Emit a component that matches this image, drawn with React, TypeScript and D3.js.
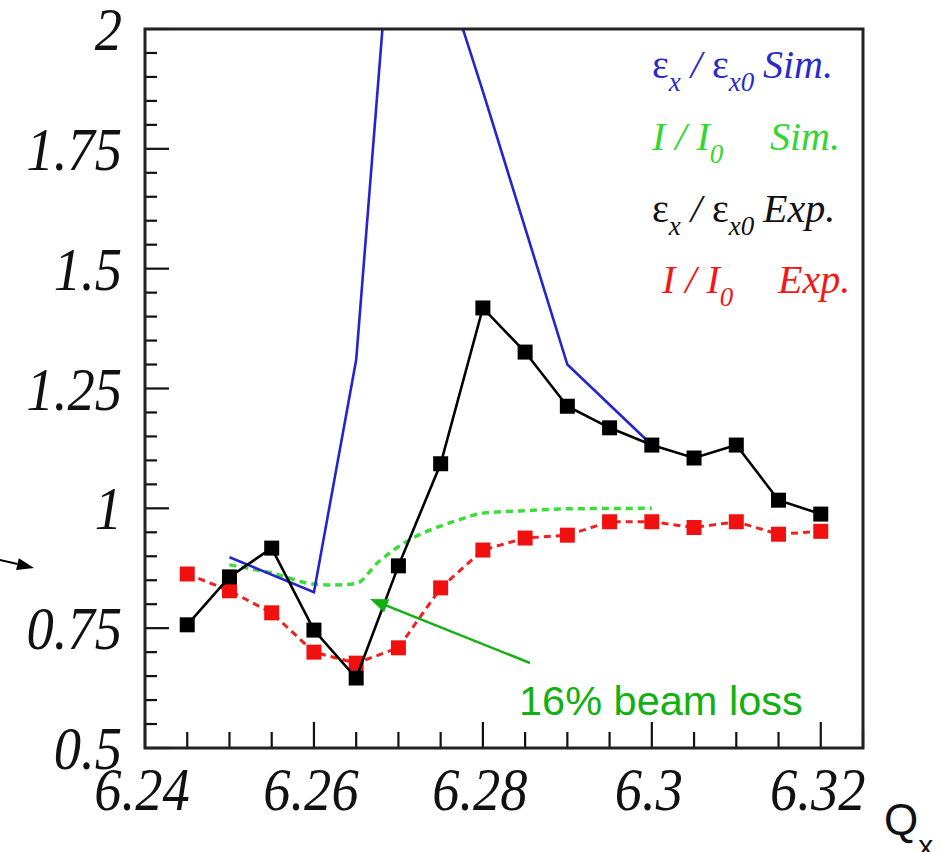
import React, { useEffect, useRef } from 'react'
import * as d3 from 'd3'

// measured points (experiment), Q_x tune scan
const qExp = [6.245, 6.25, 6.255, 6.26, 6.265, 6.27, 6.275, 6.28, 6.285, 6.29, 6.295, 6.3, 6.305, 6.31, 6.315, 6.32]
const emitExp = [0.757, 0.857, 0.917, 0.746, 0.646, 0.88, 1.093, 1.418, 1.326, 1.213, 1.168, 1.132, 1.105, 1.132, 1.017, 0.988]
const intExp = [0.863, 0.828, 0.782, 0.7, 0.677, 0.709, 0.834, 0.913, 0.938, 0.944, 0.972, 0.972, 0.96, 0.972, 0.946, 0.952]
// simulation
const qSimEmit = [6.25, 6.26, 6.265, 6.27, 6.28, 6.29, 6.3]
const emitSim = [0.898, 0.825, 1.31, 2.42, 1.87, 1.3, 1.132]
const qSimInt = [6.25, 6.255, 6.26, 6.2625, 6.265, 6.2675, 6.27, 6.2725, 6.275, 6.2775, 6.28, 6.285, 6.29, 6.3]
const intSim = [0.882, 0.865, 0.842, 0.84, 0.843, 0.886, 0.92, 0.945, 0.963, 0.978, 0.99, 0.995, 0.999, 1.0]

const yTicks = [0.5, 0.75, 1, 1.25, 1.5, 1.75, 2]
const yTickLabels = ['0.5', '0.75', '1', '1.25', '1.5', '1.75', '2']
const xTicks = [6.24, 6.26, 6.28, 6.3, 6.32]
const xTickLabels = ['6.24', '6.26', '6.28', '6.3', '6.32']

const NB = '\u00a0'
type Part = { t: string; sub?: boolean; greek?: boolean; x?: number }
const legendRows: { color: string; x: number; y: number; parts: Part[] }[] = [
  { color: '#2a2ac8', x: 652, y: 78, parts: [{ t: 'ε', greek: true }, { t: 'x', sub: true }, { t: NB + '/' + NB }, { t: 'ε', greek: true }, { t: 'x0', sub: true }, { t: 'Sim.', x: 763 }] },
  { color: '#33d633', x: 652, y: 150, parts: [{ t: 'I' + NB + '/' + NB + 'I' }, { t: '0', sub: true }, { t: 'Sim.', x: 770 }] },
  { color: '#111', x: 652, y: 222, parts: [{ t: 'ε', greek: true }, { t: 'x', sub: true }, { t: NB + '/' + NB }, { t: 'ε', greek: true }, { t: 'x0', sub: true }, { t: 'Exp.', x: 763 }] },
  { color: '#f01818', x: 662, y: 293, parts: [{ t: 'I' + NB + '/' + NB + 'I' }, { t: '0', sub: true }, { t: 'Exp.', x: 778 }] },
]

export default function App() {
  const ref = useRef<SVGSVGElement | null>(null)
  useEffect(() => {
    if (!ref.current) return
    const svg = d3.select(ref.current)
    svg.selectAll('*').remove()
    const W = 941, H = 852
    const L = 145, R = 863, T = 29, B = 748
    const x = d3.scaleLinear().domain([6.24, 6.325]).range([L, R])
    const y = d3.scaleLinear().domain([0.5, 2]).range([B, T])
    const serif = '"Liberation Serif","Times New Roman",serif'
    const sans = '"Liberation Sans",Arial,sans-serif'

    svg.append('rect').attr('width', W).attr('height', H).attr('fill', '#fff')
    svg.append('defs').append('clipPath').attr('id', 'frame')
      .append('rect').attr('x', L).attr('y', T).attr('width', R - L).attr('height', B - T)

    const plot = svg.append('g').attr('clip-path', 'url(#frame)')

    // green sim curve (I/I0)
    const simInt = qSimInt.map((q, i) => [q, intSim[i]] as [number, number])
    plot.append('path').datum(simInt)
      .attr('d', d3.line<[number, number]>().x(d => x(d[0])).y(d => y(d[1])).curve(d3.curveMonotoneX))
      .attr('fill', 'none').attr('stroke', '#3ddc3d').attr('stroke-width', 3.5).attr('stroke-dasharray', '7 5')

    // red exp I/I0
    const ie = qExp.map((q, i) => [q, intExp[i]] as [number, number])
    plot.append('path').datum(ie)
      .attr('d', d3.line<[number, number]>().x(d => x(d[0])).y(d => y(d[1])))
      .attr('fill', 'none').attr('stroke', '#ee2020').attr('stroke-width', 3).attr('stroke-dasharray', '7 5')
    plot.selectAll('rect.red').data(ie).enter().append('rect').attr('class', 'red')
      .attr('x', d => x(d[0]) - 7.5).attr('y', d => y(d[1]) - 7.5).attr('width', 15).attr('height', 15).attr('fill', '#f01010')

    // blue sim emittance
    const es = qSimEmit.map((q, i) => [q, emitSim[i]] as [number, number])
    plot.append('path').datum(es)
      .attr('d', d3.line<[number, number]>().x(d => x(d[0])).y(d => y(d[1])))
      .attr('fill', 'none').attr('stroke', '#2424d0').attr('stroke-width', 2.6)

    // black exp emittance
    const ee = qExp.map((q, i) => [q, emitExp[i]] as [number, number])
    plot.append('path').datum(ee)
      .attr('d', d3.line<[number, number]>().x(d => x(d[0])).y(d => y(d[1])))
      .attr('fill', 'none').attr('stroke', '#000').attr('stroke-width', 2.6)
    plot.selectAll('rect.blk').data(ee).enter().append('rect').attr('class', 'blk')
      .attr('x', d => x(d[0]) - 7.5).attr('y', d => y(d[1]) - 7.5).attr('width', 15).attr('height', 15).attr('fill', '#000')

    // ticks
    const ax = svg.append('g').attr('stroke', '#111').attr('stroke-width', 2.2)
    d3.range(0, 31).forEach(i => {
      const v = 0.5 + i * 0.05
      const major = i % 5 === 0
      ax.append('line').attr('x1', L).attr('x2', L + (major ? 24 : 12)).attr('y1', y(v)).attr('y2', y(v))
    })
    d3.range(0, 18).forEach(i => {
      const v = 6.24 + i * 0.005
      const major = i % 4 === 0
      ax.append('line').attr('x1', x(v)).attr('x2', x(v)).attr('y1', B).attr('y2', B - (major ? 26 : 16))
    })

    // frame
    svg.append('rect').attr('x', L).attr('y', T).attr('width', R - L).attr('height', B - T)
      .attr('fill', 'none').attr('stroke', '#222').attr('stroke-width', 3)

    // tick labels
    yTicks.forEach((v, i) => {
      svg.append('text').attr('transform', `translate(122,${y(v) + 21}) scale(0.88,1)`)
        .attr('text-anchor', 'end').attr('font-family', serif).attr('font-style', 'italic')
        .attr('font-size', 62).attr('fill', '#111').text(yTickLabels[i])
    })
    xTicks.forEach((v, i) => {
      svg.append('text').attr('transform', `translate(${x(v) - 3},810) scale(0.88,1)`)
        .attr('text-anchor', 'middle').attr('font-family', serif).attr('font-style', 'italic')
        .attr('font-size', 62).attr('fill', '#111').text(xTickLabels[i])
    })

    // Q_x axis title
    const qx = svg.append('text').attr('x', 884).attr('y', 835).attr('font-family', sans).attr('font-size', 44).attr('fill', '#111')
    qx.append('tspan').text('Q')
    qx.append('tspan').attr('dy', 21).attr('font-size', 30).text('x')

    // legend
    legendRows.forEach(row => {
      const t = svg.append('text').attr('x', row.x).attr('y', row.y).attr('fill', row.color)
        .attr('font-family', serif).attr('font-size', 40)
      let low = false
      row.parts.forEach(p => {
        const s = t.append('tspan').text(p.t)
        if (!p.greek) s.attr('font-style', 'italic')
        if (p.sub) { s.attr('font-size', 27).attr('dy', low ? 0 : 13); low = true }
        else if (low) { s.attr('dy', -13); low = false }
        if (p.x !== undefined) s.attr('x', p.x)
      })
    })

    // annotation
    const green = '#12b012'
    const ax1 = 530, ay1 = 663, ax2 = 370, ay2 = 599
    const ang = Math.atan2(ay2 - ay1, ax2 - ax1)
    const hl = 18, hw = 7
    svg.append('line').attr('x1', ax1).attr('y1', ay1)
      .attr('x2', ax2 - Math.cos(ang) * hl * 0.8).attr('y2', ay2 - Math.sin(ang) * hl * 0.8)
      .attr('stroke', green).attr('stroke-width', 2.5)
    const bx = ax2 - Math.cos(ang) * hl, by = ay2 - Math.sin(ang) * hl
    svg.append('path')
      .attr('d', `M${ax2},${ay2}L${bx - Math.sin(ang) * hw},${by + Math.cos(ang) * hw}L${bx + Math.sin(ang) * hw},${by - Math.cos(ang) * hw}Z`)
      .attr('fill', green)
    svg.append('text').attr('x', 519).attr('y', 715).attr('font-family', sans).attr('font-size', 41.5)
      .attr('fill', green).text('16% beam loss')

    // stray arrow at the left edge
    const lx1 = -4, ly1 = 559, lx2 = 34, ly2 = 568
    const a2 = Math.atan2(ly2 - ly1, lx2 - lx1)
    const cx = lx2 - Math.cos(a2) * 17, cy = ly2 - Math.sin(a2) * 17
    svg.append('line').attr('x1', lx1).attr('y1', ly1).attr('x2', cx).attr('y2', cy).attr('stroke', '#000').attr('stroke-width', 2)
    svg.append('path')
      .attr('d', `M${lx2},${ly2}L${cx - Math.sin(a2) * 6},${cy + Math.cos(a2) * 6}L${cx + Math.sin(a2) * 6},${cy - Math.cos(a2) * 6}Z`)
      .attr('fill', '#000')
  }, [])
  return <svg ref={ref} width={941} height={852} style={{ position: 'absolute', left: 0, top: 0, display: 'block' }} />
}
